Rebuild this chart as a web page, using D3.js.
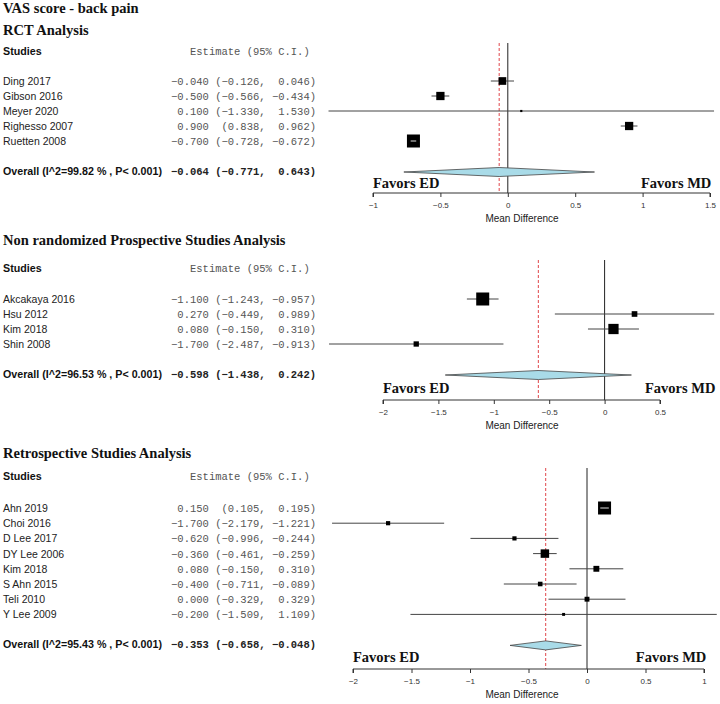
<!DOCTYPE html>
<html>
<head>
<meta charset="utf-8">
<script src="https://cdn.jsdelivr.net/npm/d3@7"></script>
<style>
  body { margin: 0; background: #fff; }
  .name { font-family: Arial, "Liberation Sans", sans-serif; font-size: 10.5px; fill: #222; }
  .bold { font-weight: bold; font-size: 10.7px; fill: #111; }
  .est { font-family: "Courier New", "Liberation Mono", monospace; font-size: 10.5px; fill: #555; white-space: pre; }
  .title { font-family: "Times New Roman", "Liberation Serif", serif; font-weight: bold; font-size: 14.5px; fill: #111; }
  .favor { font-family: "Times New Roman", "Liberation Serif", serif; font-weight: bold; font-size: 14.5px; fill: #111; }
  .tick text { font-family: Arial, "Liberation Sans", sans-serif; font-size: 8px; fill: #333; }
  .xlab { font-family: Arial, "Liberation Sans", sans-serif; font-size: 10px; fill: #222; }
</style>
</head>
<body>
<svg id="chart" width="720" height="704"></svg>
<script>
// RCT
const rctStudies = ["Ding 2017", "Gibson  2016", "Meyer 2020", "Righesso 2007", "Ruetten 2008"];
const rctEst = [-0.040, -0.500, 0.100, 0.900, -0.700];
const rctLo = [-0.126, -0.566, -1.330, 0.838, -0.728];
const rctHi = [0.046, -0.434, 1.530, 0.962, -0.672];
const rctWeight = [19.5, 21, 5.5, 21, 33];
const rctOverall = [-0.064, -0.771, 0.643];
const rctHet = "Overall (I^2=99.82 % , P< 0.001)";
const rctTicks = [-1, -0.5, 0, 0.5, 1, 1.5];

// non randomized prospective
const proStudies = ["Akcakaya 2016", "Hsu 2012", "Kim 2018", "Shin 2008"];
const proEst = [-1.100, 0.270, 0.080, -1.700];
const proLo = [-1.243, -0.449, -0.150, -2.487];
const proHi = [-0.957, 0.989, 0.310, -0.913];
const proWeight = [38, 16.5, 30, 15.5];
const proOverall = [-0.598, -1.438, 0.242];
const proHet = "Overall (I^2=96.53 % , P< 0.001)";
const proTicks = [-2, -1.5, -1, -0.5, 0, 0.5];

// retrospective
const retStudies = ["Ahn 2019", "Choi 2016", "D Lee 2017", "DY Lee 2006", "Kim 2018", "S Ahn 2015", "Teli 2010", "Y Lee 2009"];
const retEst = [0.150, -1.700, -0.620, -0.360, 0.080, -0.400, 0.000, -0.200];
const retLo = [0.105, -2.179, -0.996, -0.461, -0.150, -0.711, -0.329, -1.509];
const retHi = [0.195, -1.221, -0.244, -0.259, 0.310, -0.089, 0.329, 1.109];
const retWeight = [27, 8.7, 8.7, 17.6, 12.2, 9.5, 10.1, 6.1];
const retOverall = [-0.353, -0.658, -0.048];
const retHet = "Overall (I^2=95.43 % , P< 0.001)";
const retTicks = [-2, -1.5, -1, -0.5, 0, 0.5, 1];

const svg = d3.select("#chart");
const f3 = d3.format(".3f");
const fmtCI = (e, l, h) => f3(e).padStart(6) + " " + ("(" + f3(l) + ",").padStart(8) + " " + (f3(h) + ")").padStart(7);

svg.append("text").attr("class", "title").attr("x", 3).attr("y", 13).text("VAS score - back pain");

function forest(p) {
  let g = svg.append("g");
  let n = p.studies.length;
  let x = d3.scaleLinear().domain(d3.extent(p.ticks)).range(p.xr);
  let y = d3.scaleLinear().domain([0, n - 1]).range([p.firstY, p.firstY + (n - 1) * p.step]);
  let overallY = y(n - 1) + 30;
  let size = d3.scaleLinear().domain([0, d3.max(p.weight)]).range([0, 13]);

  g.append("text").attr("class", "title").attr("x", 3).attr("y", p.titleY).text(p.title);
  g.append("text").attr("class", "name bold").attr("x", 3).attr("y", p.headerY).text("Studies");
  g.append("text").attr("class", "est").attr("x", 190).attr("y", p.headerY).text("Estimate (95% C.I.)");

  g.selectAll(".sname").data(p.studies).join("text")
    .attr("class", "name").attr("x", 3).attr("y", (d, i) => y(i)).text(d => d);
  g.selectAll(".sest").data(p.studies).join("text")
    .attr("class", "est").attr("x", 316).attr("y", (d, i) => y(i)).attr("text-anchor", "end")
    .text((d, i) => fmtCI(p.est[i], p.lo[i], p.hi[i]));

  g.append("text").attr("class", "name bold").attr("x", 3).attr("y", overallY).text(p.het);
  g.append("text").attr("class", "est").attr("x", 316).attr("y", overallY).attr("text-anchor", "end")
    .style("font-weight", "bold").style("fill", "#222")
    .text(fmtCI(p.overall[0], p.overall[1], p.overall[2]));

  // reference lines
  let top = p.headerY - 12;
  g.append("line").attr("x1", x(0)).attr("x2", x(0)).attr("y1", top).attr("y2", p.axisY)
    .attr("stroke", "#222").attr("stroke-width", 1);
  g.append("line").attr("x1", x(p.overall[0])).attr("x2", x(p.overall[0])).attr("y1", top).attr("y2", p.axisY)
    .attr("stroke", "#e0464a").attr("stroke-width", 1).attr("stroke-dasharray", "3,2");

  // CI lines
  g.selectAll(".ci").data(p.studies).join("line")
    .attr("x1", (d, i) => x(p.lo[i])).attr("x2", (d, i) => x(p.hi[i]))
    .attr("y1", (d, i) => y(i) - 4).attr("y2", (d, i) => y(i) - 4)
    .attr("stroke", "#444").attr("stroke-width", 1);
  // boxes
  g.selectAll(".box").data(p.studies).join("rect")
    .attr("x", (d, i) => x(p.est[i]) - size(p.weight[i]) / 2)
    .attr("y", (d, i) => y(i) - 4 - size(p.weight[i]) / 2)
    .attr("width", (d, i) => size(p.weight[i]))
    .attr("height", (d, i) => size(p.weight[i]))
    .attr("fill", "#000");
  // CI narrower than its box: drawn light on top
  g.selectAll(".ciw").data(p.studies.filter((d, i) => x(p.hi[i]) - x(p.lo[i]) < size(p.weight[i]))).join("line")
    .attr("x1", d => x(p.lo[p.studies.indexOf(d)]) + 1).attr("x2", d => x(p.hi[p.studies.indexOf(d)]) - 1)
    .attr("y1", d => y(p.studies.indexOf(d)) - 4).attr("y2", d => y(p.studies.indexOf(d)) - 4)
    .attr("stroke", "#ddd").attr("stroke-width", 1);

  // summary diamond
  let dy = overallY - 3;
  g.append("path")
    .attr("d", `M${x(p.overall[1])},${dy} L${x(p.overall[0])},${dy - 4.5} L${x(p.overall[2])},${dy} L${x(p.overall[0])},${dy + 4.5} Z`)
    .attr("fill", "#a9dbe8").attr("stroke", "#444").attr("stroke-width", 0.8);

  // favors labels
  g.append("text").attr("class", "favor").attr("x", x(p.ticks[0])).attr("y", p.favorY).text("Favors ED");
  g.append("text").attr("class", "favor").attr("x", x(p.favorRight)).attr("y", p.favorY)
    .attr("text-anchor", "end").text("Favors MD");

  // axis
  let ax = g.append("g").attr("transform", `translate(0,${p.axisY})`)
    .call(d3.axisBottom(x).tickValues(p.ticks).tickSize(4).tickPadding(5).tickFormat(d3.format("")));
  ax.select(".domain").attr("stroke", "#333").attr("d", `M${x(p.ticks[0])},4V0H${x(p.ticks[p.ticks.length - 1])}V4`);
  ax.selectAll(".tick line").attr("stroke", "#333");
  g.append("text").attr("class", "xlab").attr("x", 522).attr("y", p.axisY + 29)
    .attr("text-anchor", "middle").text("Mean Difference");
}

forest({ title: "RCT Analysis", studies: rctStudies, est: rctEst, lo: rctLo, hi: rctHi, weight: rctWeight,
  overall: rctOverall, het: rctHet, ticks: rctTicks, favorRight: 1.51,
  titleY: 35, headerY: 55, firstY: 85, step: 15, axisY: 193, favorY: 188, xr: [373, 710] });

forest({ title: "Non randomized Prospective Studies Analysis", studies: proStudies, est: proEst, lo: proLo, hi: proHi,
  weight: proWeight, overall: proOverall, het: proHet, ticks: proTicks, favorRight: 1.0,
  titleY: 245, headerY: 272, firstY: 303, step: 15, axisY: 400, favorY: 393, xr: [383, 660] });

forest({ title: "Retrospective Studies Analysis", studies: retStudies, est: retEst, lo: retLo, hi: retHi,
  weight: retWeight, overall: retOverall, het: retHet, ticks: retTicks, favorRight: 1.02,
  titleY: 458, headerY: 480, firstY: 512, step: 15.2, axisY: 669, favorY: 662, xr: [353, 704] });
</script>
</body>
</html>
